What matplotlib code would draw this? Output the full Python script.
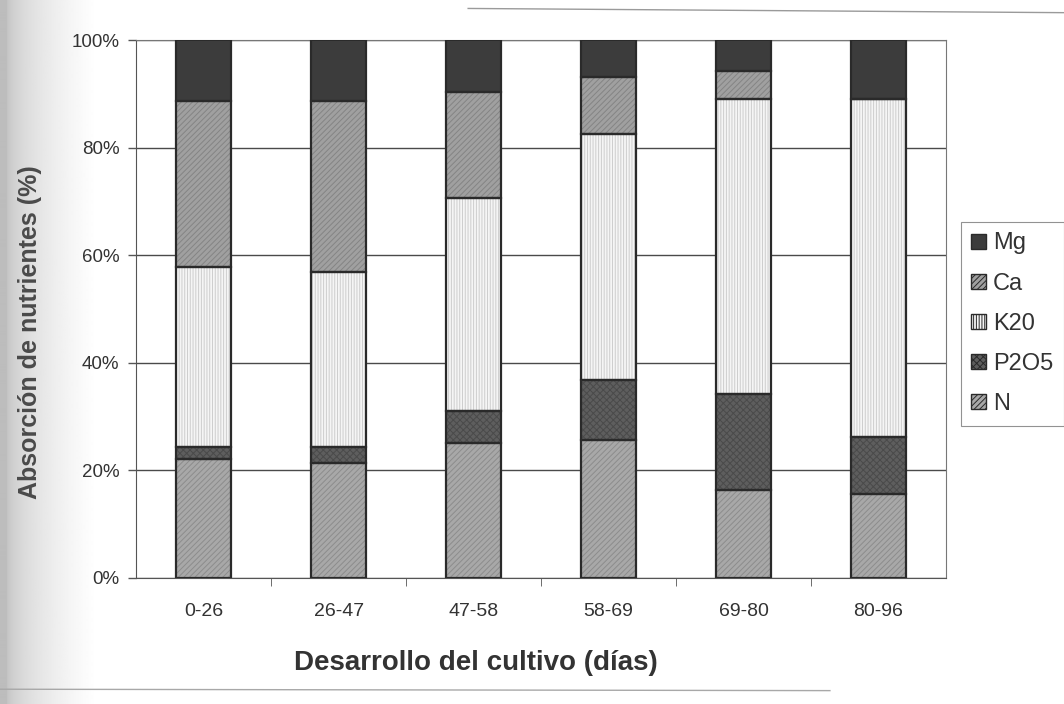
import numpy as np
import matplotlib
matplotlib.use("Agg")
import matplotlib.pyplot as plt
from matplotlib.patches import Patch
from matplotlib.lines import Line2D

plt.rcParams['font.family'] = ['Liberation Sans', 'DejaVu Sans']
plt.rcParams['hatch.linewidth'] = 0.7

periodos = ['0-26', '26-47', '47-58', '58-69', '69-80', '80-96']
N = [22.2, 21.4, 25.1, 25.7, 16.4, 15.7]
P2O5 = [2.2, 2.9, 5.9, 11.2, 17.8, 10.5]
K2O = [33.5, 32.6, 39.6, 45.7, 54.8, 62.8]
Ca = [30.7, 31.8, 19.8, 10.5, 5.2, 0.0]
Mg = [11.4, 11.3, 9.6, 6.9, 5.8, 11.0]

series = [('N', N), ('P2O5', P2O5), ('K20', K2O), ('Ca', Ca), ('Mg', Mg)]
# fill colour, hatch, hatch colour
estilos = {
    'N': ('#a8a8a8', '//////', '#8c8c8c'),
    'P2O5': ('#5e5e5e', 'xxxxx', '#4a4a4a'),
    'K20': ('#f5f5f5', '||||||', '#cdcdcd'),
    'Ca': ('#a0a0a0', '//////', '#848484'),
    'Mg': ('#3c3c3c', '', '#3c3c3c'),
}

fig = plt.figure(figsize=(10.64, 7.04), dpi=100)
fig.patch.set_facecolor('white')

# gray margin of the scanned page on the left, fading into white
bg = fig.add_axes([0, 0, 1, 1], zorder=-10)
cols = np.arange(1064)
tono = 0.74 + 0.26 * np.clip((cols - 6) / 90.0, 0, 1) ** 0.5
bg.imshow(np.tile(tono, (2, 1)), cmap='gray', vmin=0, vmax=1, aspect='auto',
          extent=[0, 1, 0, 1], interpolation='bilinear')
bg.set_xlim(0, 1)
bg.set_ylim(0, 1)
bg.add_line(Line2D([0.44, 1.0], [0.988, 0.982], color='#9a9a9a', lw=1.0))
bg.add_line(Line2D([0.0, 0.78], [0.021, 0.019], color='#a8a8a8', lw=1.0))
bg.set_axis_off()

ax = fig.add_axes([0.128, 0.179, 0.761, 0.764])
ax.set_facecolor('white')
x = np.arange(len(periodos))
ancho = 0.41
base = np.zeros(len(periodos))
handles = []
for nombre, vals in series:
    fc, hatch, hc = estilos[nombre]
    vals = np.array(vals)
    ax.bar(x, vals, ancho, bottom=base, color=fc, hatch=hatch,
           edgecolor=hc, linewidth=0, zorder=2)
    ax.bar(x, vals, ancho, bottom=base, fill=False,
           edgecolor='#2a2a2a', linewidth=1.6, zorder=3)
    base += vals
    handles.append(Patch(facecolor=fc, hatch=hatch, edgecolor='#2a2a2a',
                         linewidth=1, label=nombre))

ax.set_xlim(-0.5, len(periodos) - 0.5)
ax.set_ylim(0, 100)
ax.set_yticks(np.arange(0, 101, 20))
ax.set_yticklabels([f'{v}%' for v in range(0, 101, 20)])
ax.yaxis.grid(True, color='#4a4a4a', linewidth=1.0, zorder=0)
ax.set_axisbelow(True)

ax.set_xticks(x)
ax.set_xticklabels(periodos)
ax.set_xticks(np.arange(0.5, len(periodos) - 1, 1), minor=True)
ax.tick_params(axis='x', which='major', length=0, pad=18, labelsize=14,
               colors='#333333')
ax.tick_params(axis='x', which='minor', length=6, color='#555555')
ax.tick_params(axis='y', length=6, width=1, color='#555555', labelsize=13.5,
               labelcolor='#333333', pad=6)

for lado in ['top', 'right']:
    ax.spines[lado].set_color('#777777')
    ax.spines[lado].set_linewidth(0.8)
ax.spines['left'].set_color('#555555')
ax.spines['bottom'].set_color('#555555')

ax.set_xlabel('Desarrollo del cultivo (días)', fontsize=20, fontweight='bold',
              color='#333333')
ax.xaxis.set_label_coords(0.42, -0.133)
ax.set_ylabel('Absorción de nutrientes (%)', fontsize=18, fontweight='bold',
              color='#4a4a4a')
ax.yaxis.set_label_coords(-0.116, 0.458)

leg = fig.legend(handles[::-1], [h.get_label() for h in handles[::-1]],
                 loc='upper left', bbox_to_anchor=(0.903, 0.685),
                 fontsize=17, frameon=True, fancybox=False, handlelength=0.6,
                 handleheight=0.6, handletextpad=0.3, labelspacing=0.77,
                 borderpad=0.45, borderaxespad=0)
leg.get_frame().set_edgecolor('#777777')
leg.get_frame().set_linewidth(0.8)
for t in leg.get_texts():
    t.set_color('#333333')

fig.savefig('out.png', dpi=100)
